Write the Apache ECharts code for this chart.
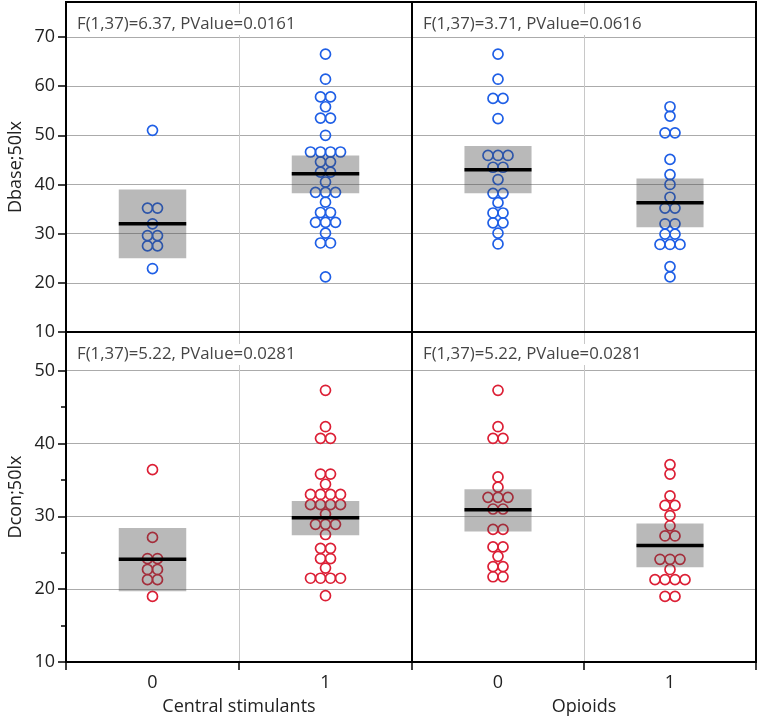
<!DOCTYPE html>
<html><head><meta charset="utf-8">
<script src="https://cdn.jsdelivr.net/npm/echarts@6/dist/echarts.min.js"></script>
<style>html,body{margin:0;padding:0;background:#fff}#chart{width:759px;height:718px}</style>
</head><body><div id="chart"></div>
<script>
// ---------- data ----------
const xCategories = ['0', '1'];
const factorNames = ['Central stimulants', 'Opioids'];
const responseNames = ['Dbase;50lx', 'Dcon;50lx'];
const statLabels = [
  'F(1,37)=6.37, PValue=0.0161',
  'F(1,37)=3.71, PValue=0.0616',
  'F(1,37)=5.22, PValue=0.0281',
  'F(1,37)=5.22, PValue=0.0281'
];

const dbaseCentral0 = [51.0, 35.2, 35.2, 32.0, 29.6, 29.6, 27.5, 27.5, 22.9];
const dbaseCentral1 = [66.5, 61.4, 57.8, 57.8, 55.8, 53.5, 53.5, 50.0, 46.6, 46.6, 46.6, 46.6,
  44.6, 44.6, 42.5, 42.5, 40.5, 38.4, 38.4, 38.4, 36.4, 34.3, 34.3, 32.3, 32.3, 32.3, 30.1, 28.1, 28.1, 21.2];
const dbaseOpioid0 = [66.5, 61.4, 57.5, 57.5, 53.4, 45.9, 45.9, 45.9, 43.5, 43.5, 41.0, 38.2, 38.2,
  36.3, 34.2, 34.2, 32.2, 32.2, 30.1, 27.9];
const dbaseOpioid1 = [55.8, 53.9, 50.5, 50.5, 45.1, 42.0, 40.0, 37.4, 35.2, 35.2, 32.0, 32.0,
  29.9, 29.9, 27.8, 27.8, 27.8, 23.3, 21.2];

const dconCentral0 = [36.4, 27.1, 24.2, 24.2, 22.7, 22.7, 21.3, 21.3, 19.0];
const dconCentral1 = [47.3, 42.3, 40.7, 40.7, 35.8, 35.8, 34.4, 33.0, 33.0, 33.0, 33.0,
  31.6, 31.6, 31.6, 31.6, 30.3, 28.9, 28.9, 28.9, 27.5, 25.6, 25.6, 24.2, 24.2, 22.9,
  21.5, 21.5, 21.5, 21.5, 19.1];
const dconOpioid0 = [47.3, 42.3, 40.7, 40.7, 35.4, 34.0, 32.6, 32.6, 32.6, 31.0, 31.0,
  28.2, 28.2, 25.8, 25.8, 24.5, 23.1, 23.1, 21.7, 21.7];
const dconOpioid1 = [37.1, 35.8, 32.8, 31.5, 31.5, 30.1, 28.7, 27.3, 27.3, 24.1, 24.1, 24.1,
  22.7, 21.3, 21.3, 21.3, 21.3, 19.0, 19.0];

// group means and interval boxes, order: [CS 0, CS 1, Opioids 0, Opioids 1]
const dbaseMeans = [32.0, 42.2, 43.0, 36.3];
const dbaseLow   = [25.0, 38.2, 38.2, 31.3];
const dbaseHigh  = [39.0, 45.9, 47.8, 41.2];
const dconMeans  = [24.1, 29.8, 30.9, 26.0];
const dconLow    = [19.7, 27.4, 27.9, 23.0];
const dconHigh   = [28.4, 32.1, 33.7, 29.0];

const dbaseTicks = [10, 20, 30, 40, 50, 60, 70];
const dconTicks = [10, 20, 30, 40, 50];
const dconMinorTicks = [15, 25, 35, 45];

// ---------- style ----------
const FONT = 'Open Sans';
const BLUE = '#1f5fe6';
const RED = '#dc1f35';
const DOT_GAP = 10;
const BOX_FRAC = 0.39;

const gridBoxes = [
  { left: 66, top: 2, width: 346, height: 330 },
  { left: 412, top: 2, width: 344, height: 330 },
  { left: 66, top: 332, width: 346, height: 330 },
  { left: 412, top: 332, width: 344, height: 330 }
];

function swarm(values, cat) {
  const counts = {};
  values.forEach(v => { counts[v] = (counts[v] || 0) + 1; });
  const seen = {};
  return values.map(v => {
    const i = seen[v] = (seen[v] === undefined ? 0 : seen[v] + 1);
    const n = counts[v];
    return { value: [cat, v], symbolOffset: [(i - (n - 1) / 2) * DOT_GAP, 0] };
  });
}

const panels = [
  { groups: [dbaseCentral0, dbaseCentral1], means: dbaseMeans.slice(0, 2), low: dbaseLow.slice(0, 2), high: dbaseHigh.slice(0, 2), color: BLUE },
  { groups: [dbaseOpioid0, dbaseOpioid1], means: dbaseMeans.slice(2), low: dbaseLow.slice(2), high: dbaseHigh.slice(2), color: BLUE },
  { groups: [dconCentral0, dconCentral1], means: dconMeans.slice(0, 2), low: dconLow.slice(0, 2), high: dconHigh.slice(0, 2), color: RED },
  { groups: [dconOpioid0, dconOpioid1], means: dconMeans.slice(2), low: dconLow.slice(2), high: dconHigh.slice(2), color: RED }
];

const grids = gridBoxes.map(g => Object.assign({
  show: true, borderColor: '#000', borderWidth: 2, backgroundColor: 'transparent', z: 10
}, g));
grids.push(Object.assign({ show: false }, gridBoxes[2]));

const labelStyle = { fontFamily: FONT, fontSize: 18, color: '#222' };

const xAxes = [0, 1, 2, 3, 4].map(i => {
  const bottom = i === 2 || i === 3;
  return {
    type: 'category', gridIndex: i, data: xCategories, boundaryGap: true,
    show: i !== 4,
    axisLine: { show: bottom, lineStyle: { color: '#000', width: 2 } },
    axisTick: { show: bottom, length: 8, lineStyle: { color: '#000', width: 1.5 } },
    axisLabel: Object.assign({ show: bottom, margin: 12 }, labelStyle),
    splitLine: { show: i !== 4, lineStyle: { color: '#c8c8c8', width: 1 } },
    name: bottom ? factorNames[i - 2] : '',
    nameLocation: 'middle', nameGap: 36,
    nameTextStyle: labelStyle
  };
});

const yAxes = [0, 1, 2, 3, 4].map(i => {
  const top = i < 2;
  const left = i === 0 || i === 2;
  const ticks = top ? dbaseTicks : dconTicks;
  if (i === 4) {
    return {
      type: 'value', gridIndex: 4, min: 10, max: 55.3, interval: 5,
      axisLine: { show: false },
      axisTick: { show: true, length: 5, customValues: dconMinorTicks, lineStyle: { color: '#000', width: 1.5 } },
      axisLabel: { show: false }, splitLine: { show: false }
    };
  }
  return {
    type: 'value', gridIndex: i, min: 10, max: top ? 77.1 : 55.3, interval: top ? 10 : 5,
    axisLine: { show: left, lineStyle: { color: '#000', width: 2 } },
    axisTick: { show: left, length: 8, customValues: ticks, lineStyle: { color: '#000', width: 1.5 } },
    axisLabel: Object.assign({ show: left, margin: 11, customValues: ticks }, labelStyle),
    splitLine: { show: true, lineStyle: { color: '#ababab', width: 1 } },
    name: left ? responseNames[top ? 0 : 1] : '',
    nameLocation: 'middle', nameGap: 41, nameRotate: 90,
    nameTextStyle: labelStyle
  };
});

const series = [];
panels.forEach((p, i) => {
  series.push({
    type: 'scatter', xAxisIndex: i, yAxisIndex: i,
    symbol: 'circle', symbolSize: 10,
    itemStyle: { color: 'rgba(0,0,0,0)', borderColor: p.color, borderWidth: 1.7, opacity: 1 },
    emphasis: { disabled: true },
    data: swarm(p.groups[0], 0).concat(swarm(p.groups[1], 1)),
    z: 2
  });
  series.push({
    type: 'custom', xAxisIndex: i, yAxisIndex: i,
    encode: { x: 0, y: [1, 2, 3] },
    data: [0, 1].map(c => [c, p.low[c], p.high[c], p.means[c]]),
    renderItem: function (params, api) {
      const c = api.value(0);
      const lo = api.coord([c, api.value(1)]);
      const hi = api.coord([c, api.value(2)]);
      const m = api.coord([c, api.value(3)]);
      const bw = api.size([1, 0])[0] * BOX_FRAC;
      return {
        type: 'group', children: [
          { type: 'rect', shape: { x: lo[0] - bw / 2, y: hi[1], width: bw, height: lo[1] - hi[1] },
            style: { fill: 'rgba(70,70,70,0.38)' } },
          { type: 'line', shape: { x1: m[0] - bw / 2, y1: m[1], x2: m[0] + bw / 2, y2: m[1] },
            style: { stroke: '#000', lineWidth: 3.5 } }
        ]
      };
    },
    z: 3
  });
});

const titles = statLabels.map((t, i) => ({
  text: t,
  left: gridBoxes[i].left + 8,
  top: gridBoxes[i].top + 12,
  padding: [2, 3, 2, 3],
  backgroundColor: '#fff',
  textStyle: { fontFamily: FONT, fontSize: 16.8, fontWeight: 'normal', color: '#454545' }
}));

const chart = echarts.init(document.getElementById('chart'), null, { renderer: 'canvas' });
chart.setOption({
  animation: false,
  backgroundColor: '#fff',
  title: titles,
  grid: grids,
  xAxis: xAxes,
  yAxis: yAxes,
  series: series
});
</script>
</body></html>
